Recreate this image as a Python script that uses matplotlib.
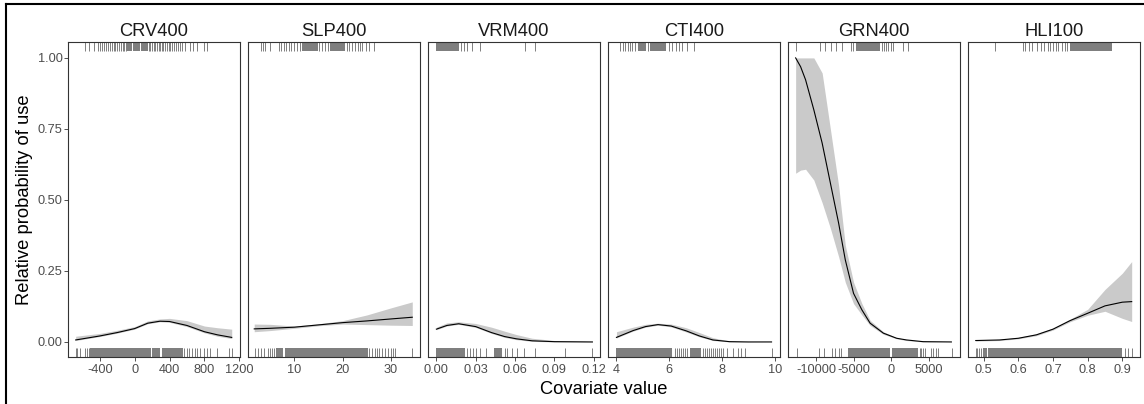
import matplotlib
matplotlib.use("Agg")
import matplotlib.pyplot as plt
from matplotlib.lines import Line2D
from matplotlib.ticker import FixedLocator, FuncFormatter

plt.rcParams['font.family'] = ['Liberation Sans', 'DejaVu Sans']

# ---------------- data ----------------
titles = ["CRV400", "SLP400", "VRM400", "CTI400", "GRN400", "HLI100"]

crv_x   = [-676, -400, -200, 0, 150, 290, 400, 600, 800, 950, 1113]
crv_fit = [0.007, 0.021, 0.033, 0.047, 0.066, 0.073, 0.072, 0.058, 0.036, 0.025, 0.016]
crv_lo  = [0.005, 0.019, 0.031, 0.045, 0.064, 0.071, 0.069, 0.054, 0.032, 0.020, 0.012]
crv_hi  = [0.020, 0.030, 0.041, 0.054, 0.074, 0.081, 0.083, 0.075, 0.056, 0.050, 0.045]

slp_x   = [1.7, 5, 10, 15, 20, 25, 30, 34.4]
slp_fit = [0.046, 0.048, 0.052, 0.060, 0.068, 0.074, 0.081, 0.087]
slp_lo  = [0.036, 0.040, 0.048, 0.057, 0.063, 0.061, 0.059, 0.058]
slp_hi  = [0.063, 0.062, 0.056, 0.064, 0.075, 0.095, 0.120, 0.141]

vrm_x   = [0.0, 0.008, 0.017, 0.03, 0.042, 0.052, 0.061, 0.073, 0.09, 0.119]
vrm_fit = [0.045, 0.058, 0.064, 0.054, 0.033, 0.019, 0.011, 0.004, 0.001, 0.0]
vrm_lo  = [0.043, 0.056, 0.062, 0.051, 0.030, 0.016, 0.008, 0.002, 0.0, 0.0]
vrm_hi  = [0.052, 0.067, 0.071, 0.065, 0.052, 0.038, 0.026, 0.013, 0.005, 0.001]

cti_x   = [4.0, 4.63, 5.1, 5.57, 6.07, 6.64, 7.14, 7.65, 8.28, 9.0, 9.87]
cti_fit = [0.016, 0.040, 0.054, 0.061, 0.056, 0.039, 0.021, 0.007, 0.001, 0.0, 0.0]
cti_lo  = [0.014, 0.038, 0.052, 0.059, 0.053, 0.035, 0.018, 0.005, 0.0, 0.0, 0.0]
cti_hi  = [0.036, 0.052, 0.062, 0.066, 0.063, 0.050, 0.033, 0.015, 0.003, 0.001, 0.0]

grn_x   = [-12793, -12128, -11463, -10355, -9242, -8138, -7035, -6144, -5040, -3923,
           -2819, -1050, 730, 2060, 4270, 8059]
grn_fit = [1.0, 0.969, 0.923, 0.817, 0.700, 0.559, 0.418, 0.289, 0.171, 0.113,
           0.066, 0.031, 0.013, 0.007, 0.001, 0.0]
grn_lo  = [0.594, 0.605, 0.608, 0.570, 0.490, 0.400, 0.300, 0.210, 0.135, 0.095,
           0.058, 0.027, 0.011, 0.005, 0.0, 0.0]
grn_hi  = [1.0, 1.0, 1.0, 1.0, 0.947, 0.749, 0.550, 0.340, 0.210, 0.135,
           0.076, 0.036, 0.015, 0.008, 0.002, 0.0]

hli_x   = [0.477, 0.546, 0.6, 0.652, 0.7, 0.749, 0.8, 0.85, 0.9, 0.927]
hli_fit = [0.005, 0.007, 0.013, 0.025, 0.045, 0.075, 0.101, 0.127, 0.140, 0.142]
hli_lo  = [0.003, 0.005, 0.011, 0.022, 0.042, 0.071, 0.094, 0.108, 0.083, 0.072]
hli_hi  = [0.006, 0.009, 0.016, 0.029, 0.049, 0.080, 0.115, 0.185, 0.242, 0.283]

# rugs: "used" drawn on top, "available" drawn on bottom
crv_used = [-572, -523, -466, -420, -400, -375, -352, -330, -300, -282, -262, -240,
            -222, -200, -180, -160, -135, -118, -98, 165, 180, 200, 220, 238, 256,
            275, 292, 312, 330, 350, 372, 392, 410, 430, 452, 470, 495, 520,
            539, 577, 634, 672, 711, 795, 833]
crv_used_spans = [(-85, -30), (-15, 60), (75, 150)]
crv_avail = [-676, -656, -630, -572, -546, -523, 569, 596, 626, 661, 692, 711, 749,
             795, 826, 864, 941, 1086, 1121]
crv_avail_spans = [(-515, 185), (203, 295), (310, 551)]

slp_used = [3.1, 3.6, 4.0, 5.0, 6.75, 7.3, 7.8, 8.3, 8.8, 9.4, 9.9, 10.5, 11.1,
            15.2, 15.8, 16.4, 17.0, 20.8, 21.4, 22.0, 22.6, 23.1, 23.6,
            24.1, 24.8, 25.5, 26.4]
slp_used_spans = [(11.5, 14.8), (17.4, 20.4)]
slp_avail = [1.93, 2.55, 3.1, 3.79, 4.47, 4.97, 5.38, 5.86, 25.5, 26.1, 26.6, 27.0,
             27.6, 28.2, 28.8, 29.3, 30.0, 30.5, 30.9, 34.4]
slp_avail_spans = [(6.2, 7.6), (8.0, 25.2)]

vrm_used = [0.0184, 0.0209, 0.0235, 0.0273, 0.033, 0.0677, 0.0752]
vrm_used_spans = [(0.0, 0.0171)]
vrm_avail = [0.023, 0.026, 0.028, 0.0303, 0.0336, 0.0381, 0.0525, 0.0542, 0.0576,
             0.0614, 0.0671, 0.0752, 0.098, 0.119]
vrm_avail_spans = [(0.0, 0.0222), (0.0442, 0.0500)]

cti_used = [4.12, 4.23, 4.31, 4.42, 4.5, 4.6, 4.72, 5.19, 5.98, 6.11, 6.24, 6.36,
            6.49, 6.66, 6.92]
cti_used_spans = [(4.8, 5.13), (5.28, 5.88)]
cti_avail = [6.22, 6.3, 6.38, 6.45, 6.52, 6.6, 6.68, 7.28, 7.35, 7.42, 7.5, 7.58,
             7.65, 7.72, 7.8, 7.88, 7.95, 8.05, 8.2, 8.4, 8.59, 8.72, 8.88, 9.89]
cti_avail_spans = [(4.0, 6.12), (6.77, 7.2)]

grn_used = [-12793, -9561, -8803, -8045, -7340, -6582, -5385, -5120, -1263, -957,
            -691, -386, -27, 279, 1529, 2274]
grn_used_spans = [(-4681, -1489)]
grn_avail = [-12660, -9694, -9029, -7912, -7473, -7035, -6716, 3830, 4056, 4270,
             4495, 5387, 5600, 6050, 6263, 8178]
grn_avail_spans = [(-5838, -160), (67, 3604)]

hli_used = [0.532, 0.614, 0.62, 0.63, 0.64, 0.655, 0.665, 0.675, 0.685, 0.69, 0.70,
            0.71, 0.715, 0.725, 0.735, 0.74]
hli_used_spans = [(0.75, 0.869)]
hli_avail = [0.477, 0.482, 0.486, 0.491, 0.908, 0.917, 0.927]
hli_avail_spans = [(0.498, 0.508), (0.511, 0.898)]

# axis ticks / limits per panel
crv_ticks = [-400, 0, 400, 800, 1200]
slp_ticks = [10, 20, 30]
vrm_ticks = [0.00, 0.03, 0.06, 0.09, 0.12]
cti_ticks = [4, 6, 8, 10]
grn_ticks = [-10000, -5000, 0, 5000]
hli_ticks = [0.5, 0.6, 0.7, 0.8, 0.9]

crv_lim = (-764, 1208)
slp_lim = (0.41, 36.0)
vrm_lim = (-0.0064, 0.1248)
cti_lim = (3.68, 10.19)
grn_lim = (-13816, 9215)
hli_lim = (0.4546, 0.951)

y_ticks = [0.00, 0.25, 0.50, 0.75, 1.00]
y_lim = (-0.053, 1.056)

panels = [
    (crv_x, crv_fit, crv_lo, crv_hi, crv_used, crv_used_spans, crv_avail, crv_avail_spans,
     crv_ticks, crv_lim, lambda v, p: f"{v:g}"),
    (slp_x, slp_fit, slp_lo, slp_hi, slp_used, slp_used_spans, slp_avail, slp_avail_spans,
     slp_ticks, slp_lim, lambda v, p: f"{v:g}"),
    (vrm_x, vrm_fit, vrm_lo, vrm_hi, vrm_used, vrm_used_spans, vrm_avail, vrm_avail_spans,
     vrm_ticks, vrm_lim, lambda v, p: f"{v:.2f}"),
    (cti_x, cti_fit, cti_lo, cti_hi, cti_used, cti_used_spans, cti_avail, cti_avail_spans,
     cti_ticks, cti_lim, lambda v, p: f"{v:g}"),
    (grn_x, grn_fit, grn_lo, grn_hi, grn_used, grn_used_spans, grn_avail, grn_avail_spans,
     grn_ticks, grn_lim, lambda v, p: f"{v:g}"),
    (hli_x, hli_fit, hli_lo, hli_hi, hli_used, hli_used_spans, hli_avail, hli_avail_spans,
     hli_ticks, hli_lim, lambda v, p: f"{v:.1f}"),
]

# ---------------- figure ----------------
W, H = 1144, 404
fig = plt.figure(figsize=(W / 100, H / 100), dpi=100)
fig.patch.set_facecolor("white")

rug_col = "#7F7F7F"
band_col = "#CACACA"
frame_col = "#333333"
tick_lab_col = "#4D4D4D"
rug_len = 0.03

ax_top_px, ax_bot_px = 42, 357
for i, (x, fit, lo, hi, used, used_sp, avail, avail_sp, ticks, lim, fmt) in enumerate(panels):
    left_px = 68 + i * 180
    ax = fig.add_axes([left_px / W, (H - ax_bot_px) / H, 172 / W,
                       (ax_bot_px - ax_top_px) / H])
    ax.fill_between(x, lo, hi, color=band_col, lw=0, zorder=1)
    ax.plot(x, fit, color="black", lw=0.8, zorder=3)
    tr = ax.get_xaxis_transform()
    ax.vlines(used, 1 - rug_len, 1, transform=tr, color=rug_col, lw=0.7, zorder=2)
    for a, b in used_sp:
        ax.axvspan(a, b, ymin=1 - rug_len, ymax=1, color=rug_col, lw=0, zorder=2)
    ax.vlines(avail, 0, rug_len, transform=tr, color=rug_col, lw=0.7, zorder=2)
    for a, b in avail_sp:
        ax.axvspan(a, b, ymin=0, ymax=rug_len, color=rug_col, lw=0, zorder=2)

    ax.set_xlim(*lim)
    ax.set_ylim(*y_lim)
    ax.xaxis.set_major_locator(FixedLocator(ticks))
    ax.xaxis.set_major_formatter(FuncFormatter(fmt))
    ax.yaxis.set_major_locator(FixedLocator(y_ticks))
    ax.yaxis.set_major_formatter(FuncFormatter(lambda v, p: f"{v:.2f}"))
    for s in ax.spines.values():
        s.set_color(frame_col)
        s.set_linewidth(0.8)
    ax.tick_params(axis="x", direction="out", length=2.6, width=0.6, color=frame_col,
                   labelcolor=tick_lab_col, labelsize=9.2, pad=2.2)
    ax.tick_params(axis="y", direction="out", length=2.6, width=0.6, color=frame_col,
                   labelcolor=tick_lab_col, labelsize=9.2, pad=1.2)
    if i > 0:
        ax.tick_params(axis="y", left=False, labelleft=False)
    ax.set_title(titles[i], fontsize=13.2, color="#1A1A1A", pad=4)

fig.text(604 / W, (H - 389.5) / H, "Covariate value", ha="center", va="center",
         fontsize=13.2, color="black")
fig.text(25 / W, (H - 199.5) / H, "Relative probability of use", ha="center",
         va="center", rotation=90, fontsize=13.2, color="black")

# outer frame (left and top edges visible in reference)
fig.add_artist(Line2D([5.5 / W, 5.5 / W], [0, (H - 4) / H], transform=fig.transFigure,
                      color="black", lw=1.5))
fig.add_artist(Line2D([5.5 / W, 1], [(H - 4) / H, (H - 4) / H], transform=fig.transFigure,
                      color="black", lw=1.5))

fig.savefig("out.png", dpi=100, facecolor="white")
